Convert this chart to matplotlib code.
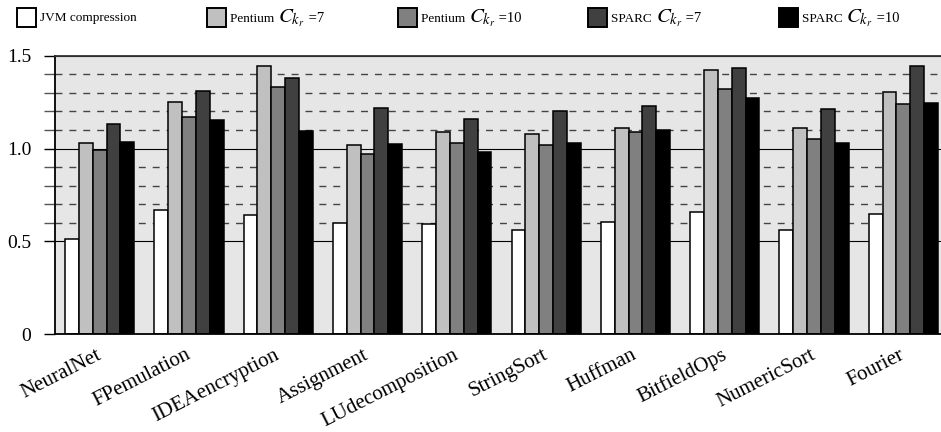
import matplotlib
matplotlib.use("Agg")
import matplotlib.pyplot as plt
import matplotlib.transforms as mtransforms
from matplotlib.patches import Rectangle
from matplotlib.offsetbox import TextArea, HPacker, AnnotationBbox
from matplotlib.ticker import FixedLocator

plt.rcParams["font.family"] = ["Liberation Serif", "DejaVu Serif"]
plt.rcParams["mathtext.fontset"] = "stix"

# datos
benchmarks = ["NeuralNet", "FPemulation", "IDEAencryption", "Assignment",
              "LUdecomposition", "StringSort", "Huffman", "BitfieldOps",
              "NumericSort", "Fourier"]
jvm_compression = [0.515, 0.669, 0.642, 0.601, 0.592, 0.563, 0.606, 0.659, 0.563, 0.648]
pentium_7 = [1.030, 1.251, 1.443, 1.019, 1.091, 1.080, 1.111, 1.421, 1.111, 1.303]
pentium_10 = [0.992, 1.170, 1.332, 0.971, 1.030, 1.019, 1.089, 1.321, 1.052, 1.242]
sparc_7 = [1.131, 1.312, 1.382, 1.220, 1.161, 1.202, 1.231, 1.432, 1.212, 1.443]
sparc_10 = [1.034, 1.154, 1.097, 1.023, 0.983, 1.032, 1.098, 1.274, 1.032, 1.246]

series = [jvm_compression, pentium_7, pentium_10, sparc_7, sparc_10]
colores = ["#ffffff", "#c0c0c0", "#808080", "#404040", "#000000"]
leyenda = [("JVM compression", None, None),
           ("Pentium", r"$C_{k_r}$", "=7"),
           ("Pentium", r"$C_{k_r}$", "=10"),
           ("SPARC", r"$C_{k_r}$", "=7"),
           ("SPARC", r"$C_{k_r}$", "=10")]

W, H = 941, 432
fig = plt.figure(figsize=(W / 100, H / 100), dpi=100)

# ── ejes principales ──────────────────────────
ax = fig.add_axes([55 / W, (H - 334.3) / H, (948 - 55) / W, (334.3 - 55.7) / H])
ax.set_facecolor("#e6e6e6")
ax.set_axisbelow(True)

ancho = 0.155
for j, (vals, col) in enumerate(zip(series, colores)):
    xs = [i + (j - 2) * ancho for i in range(len(benchmarks))]
    ax.bar(xs, vals, width=ancho, color=col, edgecolor="black", linewidth=1.1, zorder=2)

ax.set_xlim(-0.5, len(benchmarks) - 0.5)
ax.set_ylim(0, 1.5)
ax.set_yticks([0, 0.5, 1.0, 1.5])
ax.set_yticklabels(["0", "0.5", "1.0", "1.5"], fontsize=14)
ax.yaxis.set_minor_locator(FixedLocator([0.6, 0.7, 0.8, 0.9, 1.1, 1.2, 1.3, 1.4]))
ax.grid(axis="y", which="major", color="black", linewidth=0.8, linestyle="-")
ax.grid(axis="y", which="minor", color="#444444", linewidth=1.0, linestyle=(0, (5, 5)))
ax.tick_params(axis="y", which="major", direction="out", length=8, width=1.0, pad=9)
ax.tick_params(axis="y", which="minor", direction="out", length=8, width=1.0, color="#555555")

ax.set_xticks(range(len(benchmarks)))
ax.set_xticklabels(benchmarks, fontsize=15, rotation=27, ha="right",
                   rotation_mode="anchor")
ax.tick_params(axis="x", length=0, pad=8)
desplaza = mtransforms.ScaledTranslation(-4 / 100, 0, fig.dpi_scale_trans)
for lbl in ax.get_xticklabels():
    lbl.set_transform(lbl.get_transform() + desplaza)

for lado in ["left", "bottom"]:
    ax.spines[lado].set_linewidth(1.3)
ax.spines["top"].set_color("#333333")
ax.spines["top"].set_linewidth(1.3)
ax.spines["right"].set_visible(False)

# ── leyenda manual arriba ─────────────────────
axl = fig.add_axes([0, 0, 1, 1], zorder=5)
axl.set_xlim(0, W)
axl.set_ylim(H, 0)
axl.axis("off")
for k, ((txt, mat, suf), col) in enumerate(zip(leyenda, colores)):
    x0 = 17 + 190.5 * k
    axl.add_patch(Rectangle((x0, 8), 19, 19, facecolor=col, edgecolor="black", linewidth=1.4))
    partes = [TextArea(txt, textprops=dict(fontsize=9.5))]
    if mat is not None:
        partes[0] = TextArea(txt + " ", textprops=dict(fontsize=9.5))
        partes.append(TextArea(mat, textprops=dict(fontsize=15)))
        partes.append(TextArea(" " + suf, textprops=dict(fontsize=10.5)))
    caja = HPacker(children=partes, align="baseline", pad=0, sep=0)
    ab = AnnotationBbox(caja, (x0 + 23, 18), xycoords="data", box_alignment=(0, 0.5),
                        frameon=False, pad=0)
    axl.add_artist(ab)

plt.savefig("out.png", dpi=100)
plt.close()
